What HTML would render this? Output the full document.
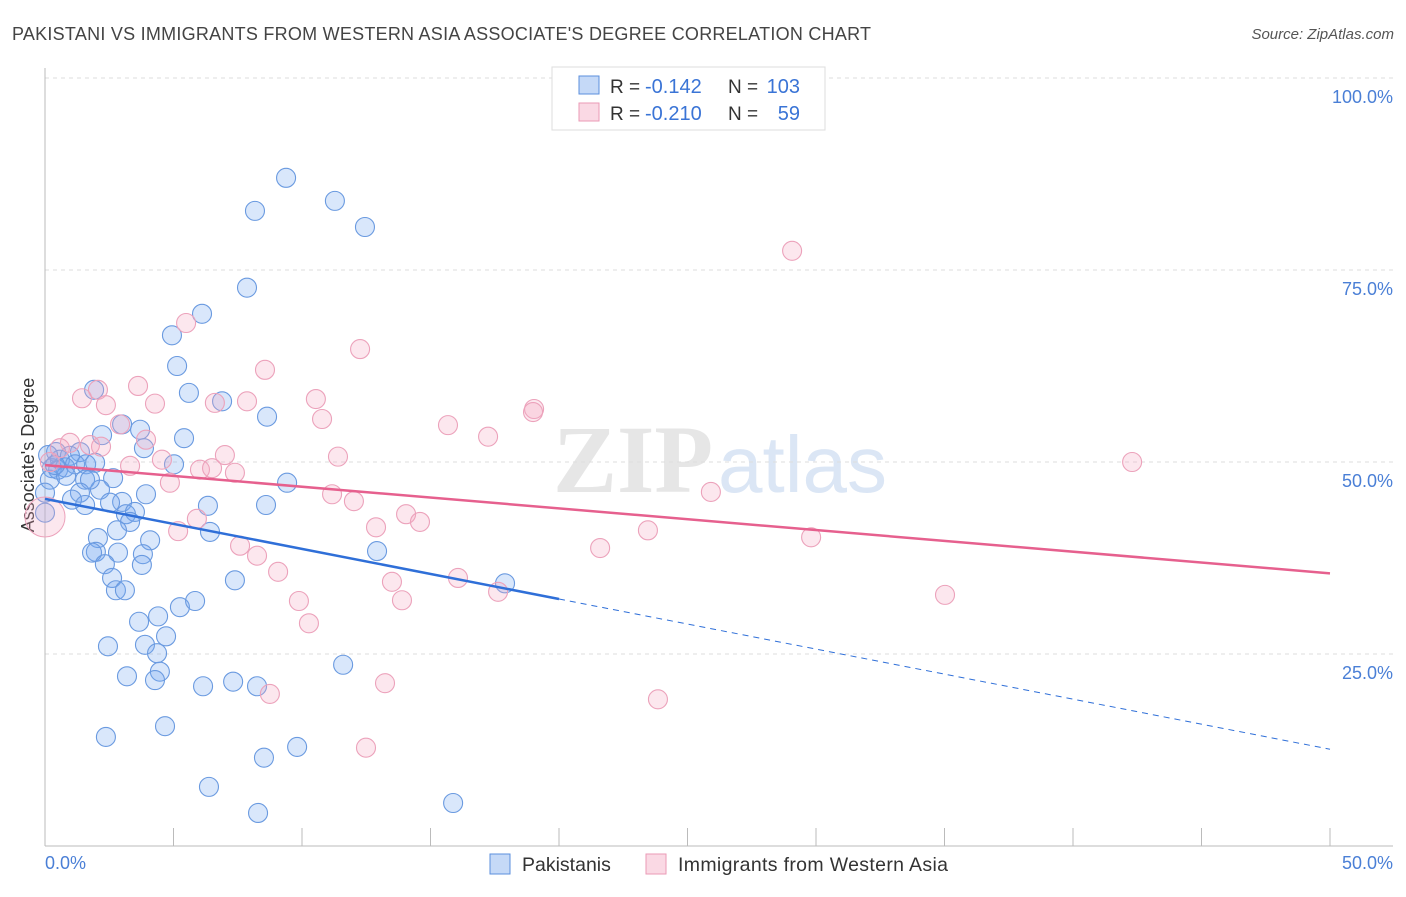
<!DOCTYPE html>
<html><head><meta charset="utf-8"><style>
body{margin:0;background:#fff;font-family:"Liberation Sans",sans-serif}
</style></head><body>
<svg id="c" width="1406" height="892" xmlns="http://www.w3.org/2000/svg"></svg>
<script>
const blueX=[], blueY=[], pinkX=[], pinkY=[];
const bluePx=[[286,178],[335,201],[255,211],[365,227],[247,288],[202,314],[172,335],[177,366],[94,390],[189,393],[222,401],[267,417],[122,424],[140,430],[184,438],[102,435],[144,448],[80,452],[56,452],[60,460],[70,456],[52,468],[58,470],[65,467],[75,464],[86,464],[95,463],[50,480],[66,476],[85,480],[113,478],[100,490],[90,480],[80,493],[72,500],[85,505],[146,494],[122,502],[110,503],[208,506],[266,505],[287,483],[174,464],[126,514],[135,512],[150,540],[130,522],[117,530],[98,538],[96,552],[92,553],[118,553],[105,564],[143,554],[142,565],[112,578],[116,590],[125,590],[235,580],[210,532],[377,551],[505,583],[180,607],[195,601],[158,616],[139,622],[166,636],[108,646],[145,645],[157,653],[160,672],[127,676],[155,680],[233,682],[203,686],[257,686],[343,665],[165,726],[106,737],[297,747],[264,758],[209,787],[258,813],[453,803],[45,493],[45,513],[48,455],[55,465]];
const pinkPx=[[792,251],[186,323],[360,349],[265,370],[98,390],[138,386],[82,398],[106,405],[155,404],[215,403],[247,401],[316,399],[322,419],[448,425],[534,409],[533,412],[488,437],[120,424],[146,440],[70,443],[60,448],[90,445],[101,447],[162,460],[130,466],[200,470],[212,468],[225,455],[235,473],[338,457],[170,483],[332,494],[354,501],[406,514],[420,522],[376,527],[197,519],[178,531],[240,546],[257,556],[278,572],[600,548],[648,530],[711,492],[811,537],[1132,462],[945,595],[458,578],[498,592],[392,582],[402,600],[299,601],[309,623],[385,683],[270,694],[366,748],[658,699],[50,462]];
bluePx.forEach(p=>{blueX.push(+((p[0]-45)/25.7).toFixed(2));blueY.push(+((846-p[1])/7.68).toFixed(1));});
pinkPx.forEach(p=>{pinkX.push(+((p[0]-45)/25.7).toFixed(2));pinkY.push(+((846-p[1])/7.68).toFixed(1));});
const blueTrend=[45.2,12.6], pinkTrend=[49.6,35.5];
const yTicks=[25,50,75,100], yTickLabels=["25.0%","50.0%","75.0%","100.0%"];

const svg=document.getElementById('c');const NS='http://www.w3.org/2000/svg';
const X=v=>45+v*25.7, Y=v=>846-v*7.68;
function el(t,a,p){const e=document.createElementNS(NS,t);for(const k in a)e.setAttribute(k,a[k]);(p||svg).appendChild(e);return e;}
function tx(x,y,s,a){const e=el('text',Object.assign({x:x,y:y},a));e.textContent=s;return e;}
let t=tx(12,40,"PAKISTANI VS IMMIGRANTS FROM WESTERN ASIA ASSOCIATE'S DEGREE CORRELATION CHART",{'font-size':18,fill:'#444',textLength:859});

t=tx(1394,39,"Source: ZipAtlas.com",{'font-size':15,fill:'#555','text-anchor':'end','font-style':'italic'});

t=tx(553,492,"ZIP",{'font-size':96,fill:'#e6e6e6','font-family':'Liberation Serif','font-weight':'bold'});

t=tx(718,492,"atlas",{'font-size':80,fill:'#dbe6f5'});

yTicks.forEach((v,i)=>{const g=el('line',{x1:45,x2:1393,y1:Y(v),y2:Y(v),stroke:'#ddd','stroke-dasharray':'4,4'});

const l=tx(1393,Y(v)+25,yTickLabels[i],{'font-size':18,fill:'#4a7fd6','text-anchor':'end'});
});
let a=el('line',{x1:45,x2:45,y1:68,y2:846,stroke:'#bbb'});
a=el('line',{x1:45,x2:1393,y1:846,y2:846,stroke:'#bbb'});
for(let i=0;i<=10;i++){const k=el('line',{x1:X(i*5),x2:X(i*5),y1:828,y2:846,stroke:'#bbb'});}
t=tx(45,869,"0.0%",{'font-size':18,fill:'#4a7fd6'});
t=tx(1393,869,"50.0%",{'font-size':18,fill:'#4a7fd6','text-anchor':'end'});
t=tx(34,455,"Associate's Degree",{'font-size':18,fill:'#333','text-anchor':'middle',transform:'rotate(-90 34 455)'});

blueX.forEach((v,i)=>{const c=el('circle',{cx:X(v),cy:Y(blueY[i]),r:9.5,fill:'rgba(120,170,240,0.28)',stroke:'#6a9ae0','stroke-width':1.1});
});
pinkX.forEach((v,i)=>{const c=el('circle',{cx:X(v),cy:Y(pinkY[i]),r:9.5,fill:'rgba(245,170,195,0.28)',stroke:'#eca2bb','stroke-width':1.1});
});
let big=el('circle',{cx:45,cy:517,r:20,fill:'rgba(245,170,195,0.28)',stroke:'#eca2bb'});
const bAt=x=>blueTrend[0]+(blueTrend[1]-blueTrend[0])*x/50;
let L=el('line',{x1:X(0),y1:Y(bAt(0)),x2:X(20),y2:Y(bAt(20)),stroke:'#2f6fd8','stroke-width':2.5});
L=el('line',{x1:X(20),y1:Y(bAt(20)),x2:X(50),y2:Y(bAt(50)),stroke:'#2f6fd8','stroke-width':1,'stroke-dasharray':'6,5'});
L=el('line',{x1:X(0),y1:Y(pinkTrend[0]),x2:X(50),y2:Y(pinkTrend[1]),stroke:'#e6608e','stroke-width':2.5});
const lg=el('g',{});
el('rect',{x:552,y:67,width:273,height:63,fill:'#fff',stroke:'#ddd'},lg);
el('rect',{x:579,y:76,width:20,height:18,fill:'rgba(110,160,235,0.4)',stroke:'#5b8fdc'},lg);
el('rect',{x:579,y:103,width:20,height:18,fill:'rgba(242,160,188,0.4)',stroke:'#eb9ab6'},lg);
[["R = ","-0.142","N = ","103",93],["R = ","-0.210","N = ","59",120]].forEach(r=>{
tx(610,r[4],r[0],{'font-size':19,fill:'#333'},lg);tx(645,r[4],r[1],{'font-size':20,fill:'#3a74d6'},lg);
tx(728,r[4],r[2],{'font-size':19,fill:'#333'},lg);tx(800,r[4],r[3],{'font-size':20,fill:'#3a74d6','text-anchor':'end'},lg);});
const bl=el('g',{});
el('rect',{x:490,y:854,width:20,height:20,fill:'rgba(110,160,235,0.4)',stroke:'#5b8fdc'},bl);
tx(522,871,"Pakistanis",{'font-size':19.5,fill:'#333'},bl);
el('rect',{x:646,y:854,width:20,height:20,fill:'rgba(242,160,188,0.4)',stroke:'#eb9ab6'},bl);
tx(678,871,"Immigrants from Western Asia",{'font-size':19.5,fill:'#333',textLength:270},bl);
</script>
</body></html>
